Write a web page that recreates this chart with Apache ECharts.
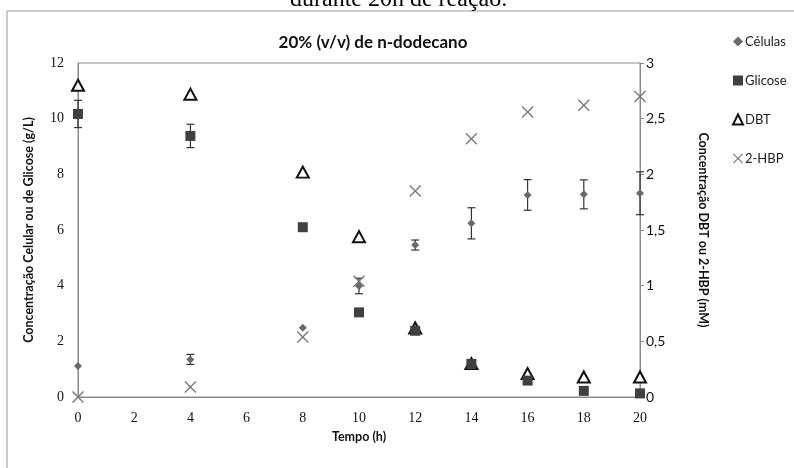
<!DOCTYPE html>
<html>
<head>
<meta charset="utf-8">
<script src="https://cdn.jsdelivr.net/npm/echarts@6/dist/echarts.min.js"></script>
<style>
  html, body { margin: 0; padding: 0; background: #fff; }
  #chart { width: 794px; height: 468px; }
</style>
</head>
<body>
<div id="chart"></div>
<script>
// 数据
const tempo = [0, 4, 8, 10, 12, 14, 16, 18, 20];
const celulas = [1.11, 1.35, 2.49, 3.99, 5.46, 6.24, 7.26, 7.28, 7.32];
const celulasErr = [0, 0.18, 0, 0.28, 0.18, 0.56, 0.55, 0.52, 0.77];
const glicose = [10.17, 9.38, 6.10, 3.04, 2.38, 1.19, 0.59, 0.22, 0.13];
const glicoseErr = [0.49, 0.42, 0, 0, 0, 0, 0, 0, 0];
const dbt = [2.80, 2.72, 2.02, 1.44, 0.62, 0.30, 0.21, 0.18, 0.18];
const hbp = [0, 0.09, 0.54, 1.04, 1.85, 2.32, 2.56, 2.62, 2.70];

const sans = 'Lato, "Open Sans", sans-serif';
const serif = '"Liberation Serif", "DejaVu Serif", serif';
const crossPath = 'path://M0,1L1,0L6,5L11,0L12,1L7,6L12,11L11,12L6,7L1,12L0,11L5,6Z';

const chart = echarts.init(document.getElementById('chart'));

// 误差线
function errSeries(vals, errs) {
    const data = tempo.map((t, i) => [t, vals[i] - errs[i], vals[i] + errs[i]])
        .filter((d, i) => errs[i] > 0);
    return {
        type: 'custom',
        yAxisIndex: 0,
        silent: true,
        z: 1,
        renderItem: function (params, api) {
            const lo = api.coord([api.value(0), api.value(1)]);
            const hi = api.coord([api.value(0), api.value(2)]);
            const w = 4;
            const st = { stroke: '#333', lineWidth: 1.2 };
            return {
                type: 'group',
                children: [
                    { type: 'line', shape: { x1: lo[0], y1: lo[1], x2: hi[0], y2: hi[1] }, style: st },
                    { type: 'line', shape: { x1: lo[0] - w, y1: lo[1], x2: lo[0] + w, y2: lo[1] }, style: st },
                    { type: 'line', shape: { x1: hi[0] - w, y1: hi[1], x2: hi[0] + w, y2: hi[1] }, style: st }
                ]
            };
        },
        encode: { x: 0, y: [1, 2] },
        data: data
    };
}

const option = {
    animation: false,
    backgroundColor: '#fff',
    title: {
        text: '20% (v/v) de n-dodecano',
        left: 368,
        top: 29,
        textAlign: 'center',
        textStyle: { fontFamily: sans, fontSize: 17, fontWeight: 'bold', color: '#111' }
    },
    graphic: [
        {
            type: 'rect',
            shape: { x: 7, y: 11, width: 900, height: 600 },
            style: { fill: 'none', stroke: '#9a9a9a', lineWidth: 1 },
            z: -1
        },
        {
            type: 'text',
            left: 290,
            top: -12,
            style: { text: 'durante 20h de reação.', font: '24px ' + serif, fill: '#000' }
        }
    ],
    legend: {
        orient: 'vertical',
        left: 727,
        top: 30,
        itemWidth: 10,
        itemHeight: 10,
        itemGap: 26,
        data: ['Células', 'Glicose', 'DBT', '2-HBP'],
        textStyle: { fontFamily: sans, fontSize: 13, color: '#222', padding: [0, 0, 0, -3] }
    },
    grid: {
        left: 78,
        right: 154,
        top: 63,
        bottom: 71,
        show: true,
        borderColor: '#8a8a8a',
        borderWidth: 1
    },
    xAxis: {
        type: 'value',
        min: 0,
        max: 20,
        interval: 2,
        name: 'Tempo (h)',
        nameLocation: 'middle',
        nameGap: 33,
        nameTextStyle: { fontFamily: sans, fontSize: 12.5, fontWeight: 'bold', color: '#111' },
        axisLine: { show: true, onZero: false, lineStyle: { color: '#8a8a8a' } },
        axisTick: { show: false },
        splitLine: { show: false },
        axisLabel: { fontFamily: serif, fontSize: 14, color: '#111', margin: 14 }
    },
    yAxis: [
        {
            type: 'value',
            min: 0,
            max: 12,
            interval: 2,
            name: 'Concentração Celular ou de Glicose (g/L)',
            nameLocation: 'middle',
            nameGap: 43,
            nameTextStyle: { fontFamily: sans, fontSize: 12.5, fontWeight: 'bold', color: '#111' },
            axisLine: { show: true, lineStyle: { color: '#8a8a8a' } },
            axisTick: { show: false },
            splitLine: { show: false },
            axisLabel: { fontFamily: serif, fontSize: 14, color: '#111', margin: 14 }
        },
        {
            type: 'value',
            min: 0,
            max: 3,
            interval: 0.5,
            position: 'right',
            name: 'Concentração DBT ou 2-HBP (mM)',
            nameLocation: 'middle',
            nameRotate: -90,
            nameGap: 57,
            nameTextStyle: { fontFamily: sans, fontSize: 12.5, fontWeight: 'bold', color: '#111' },
            axisLine: { show: true, lineStyle: { color: '#8a8a8a' } },
            axisTick: { show: true, length: 4, lineStyle: { color: '#8a8a8a' } },
            splitLine: { show: false },
            axisLabel: {
                fontFamily: sans, fontSize: 14, color: '#111', margin: 6,
                formatter: v => String(v).replace('.', ',')
            }
        }
    ],
    series: [
        errSeries(glicose, glicoseErr),
        errSeries(celulas, celulasErr),
        {
            name: 'Glicose',
            type: 'scatter',
            yAxisIndex: 0,
            symbol: 'rect',
            symbolSize: 10,
            itemStyle: { color: '#404040', opacity: 1 },
            z: 3,
            data: tempo.map((t, i) => [t, glicose[i]])
        },
        {
            name: 'DBT',
            type: 'scatter',
            yAxisIndex: 1,
            symbol: 'triangle',
            symbolSize: [12, 11],
            itemStyle: { color: '#fff', borderColor: '#111', borderWidth: 2, opacity: 1 },
            z: 2,
            data: tempo.map((t, i) => [t, dbt[i]])
        },
        {
            name: '2-HBP',
            type: 'scatter',
            yAxisIndex: 1,
            symbol: crossPath,
            symbolSize: 12,
            itemStyle: { color: '#7a7a7a', opacity: 1 },
            z: 4,
            data: tempo.map((t, i) => [t, hbp[i]])
        },
        {
            name: 'Células',
            type: 'scatter',
            yAxisIndex: 0,
            symbol: 'diamond',
            symbolSize: 8,
            itemStyle: { color: '#6a6a6a', opacity: 1 },
            z: 5,
            data: tempo.map((t, i) => [t, celulas[i]])
        }
    ]
};

chart.setOption(option);
</script>
</body>
</html>
